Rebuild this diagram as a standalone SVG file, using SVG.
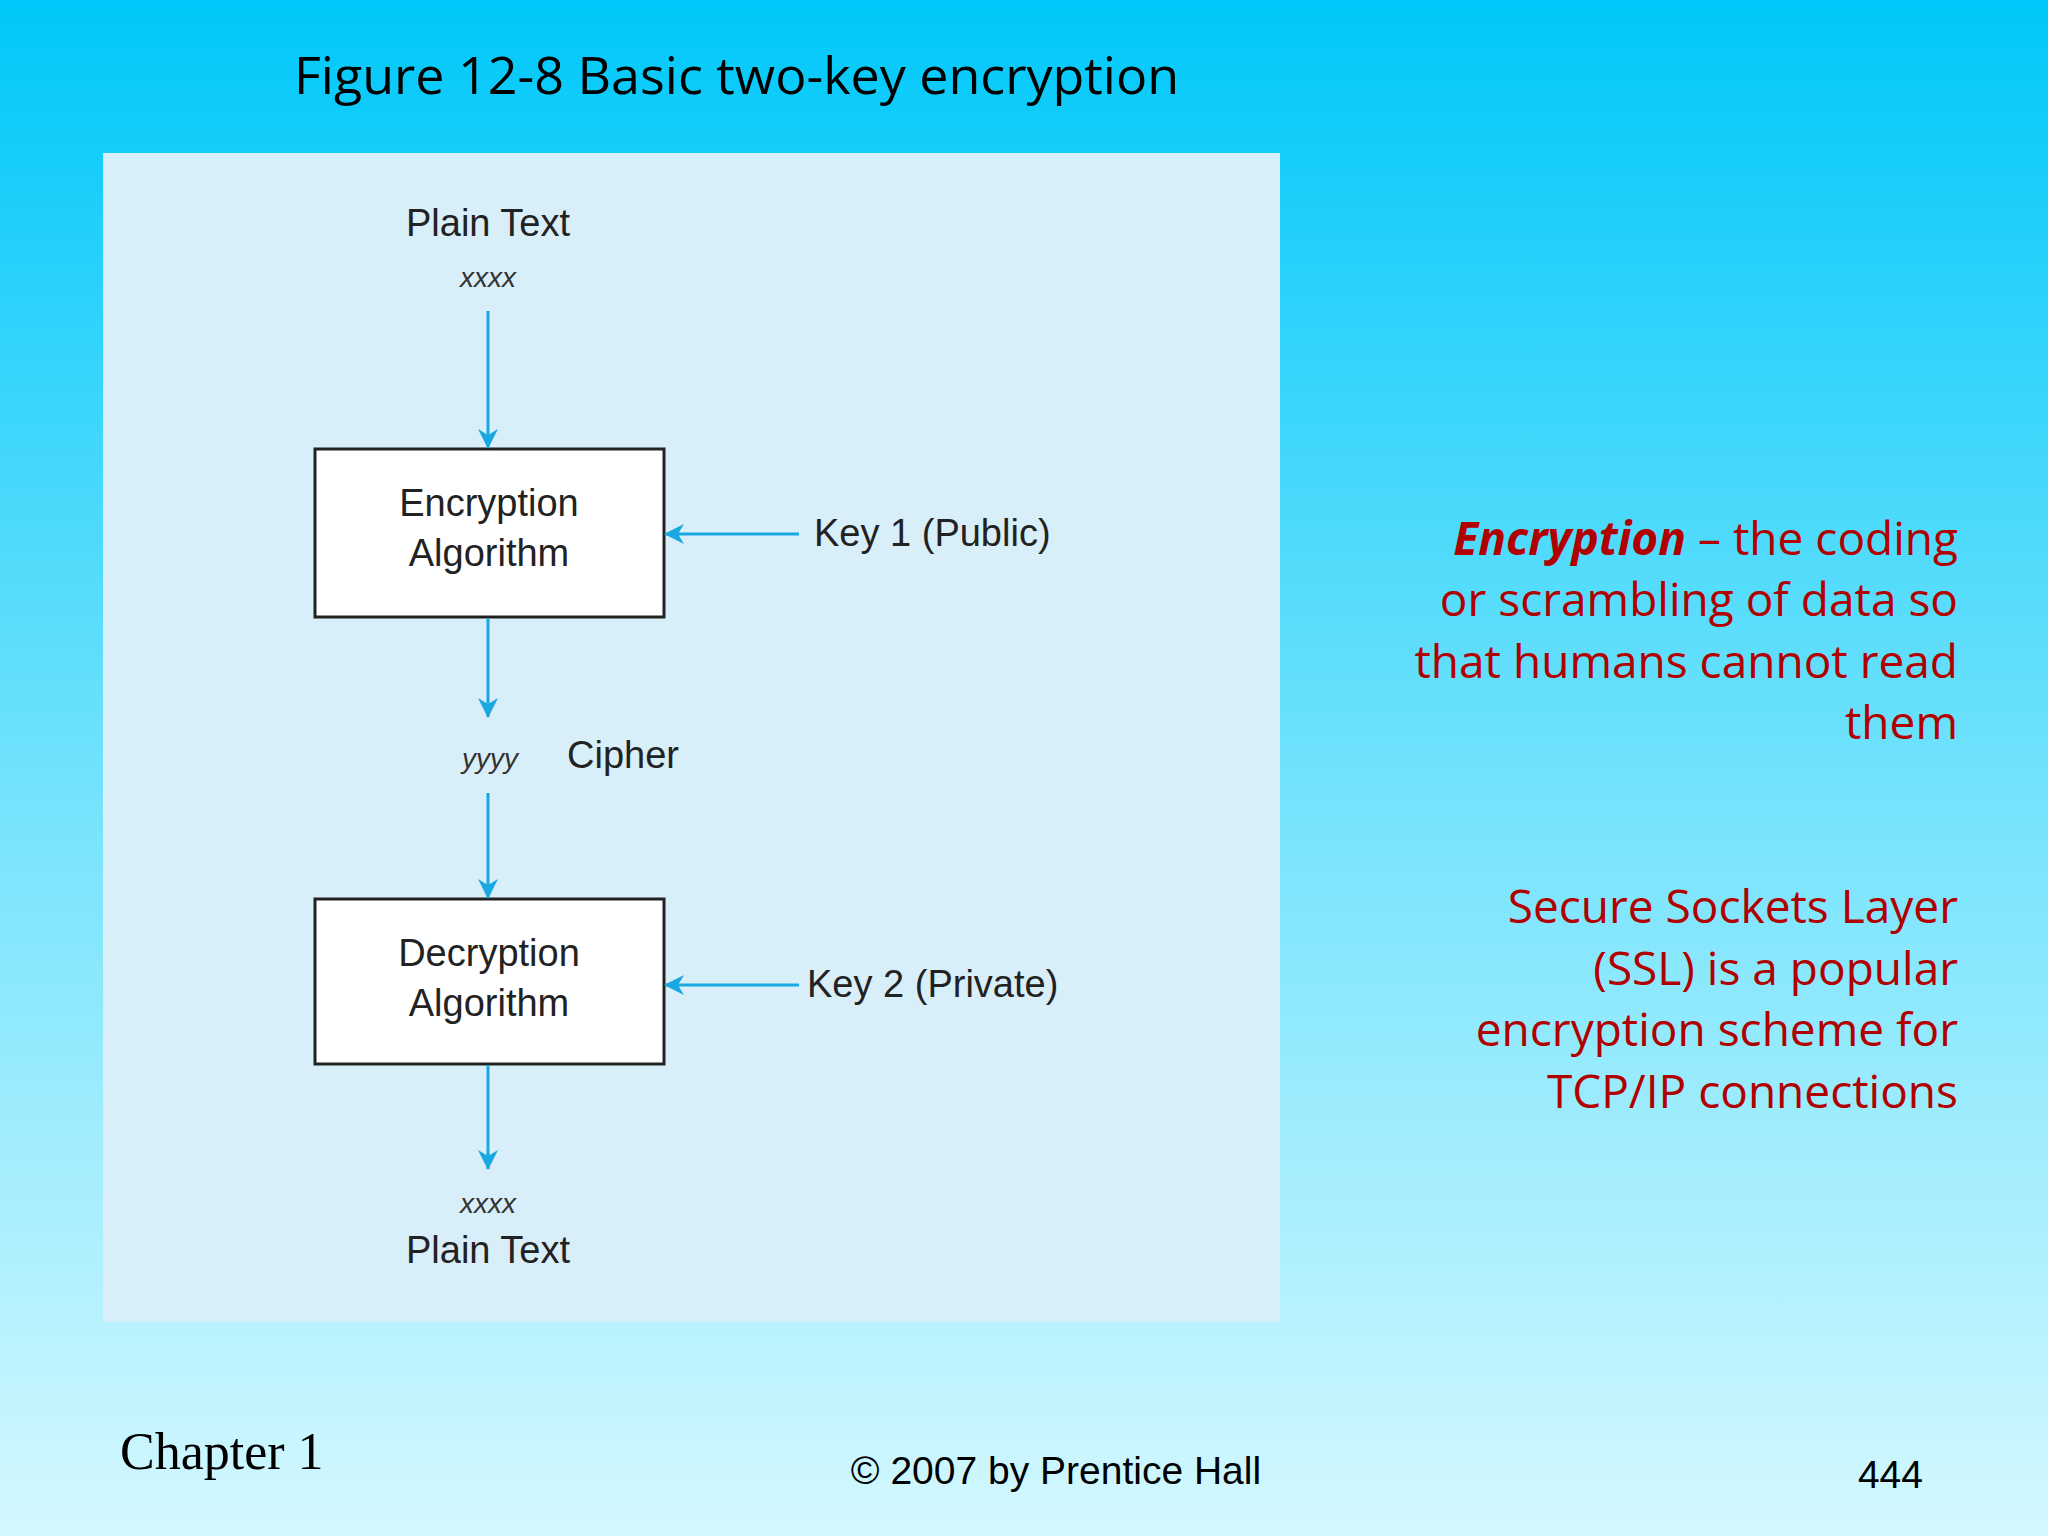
<svg xmlns="http://www.w3.org/2000/svg" width="2048" height="1536" viewBox="0 0 2048 1536">
<defs>
<linearGradient id="bg" x1="0" y1="0" x2="0" y2="1">
<stop offset="0" stop-color="#00c8fa"/><stop offset="0.5" stop-color="#70e2fc"/><stop offset="1" stop-color="#d4f8ff"/>
</linearGradient>
<marker id="ah" viewBox="0 0 20 20" refX="19" refY="10" markerWidth="20" markerHeight="20" markerUnits="userSpaceOnUse" orient="auto">
<path d="M0,0 L20,10 L0,20 L6,10 Z" fill="#1aa8e0"/>
</marker>
<style>
.lbl{font-family:"Liberation Sans",Arial,sans-serif;font-size:38px;fill:#222;text-anchor:middle}
.it{font-family:"Liberation Sans",Arial,sans-serif;font-size:28px;font-style:italic;fill:#333;text-anchor:middle}
.box{fill:#fff;stroke:#222;stroke-width:3}
.ln{stroke:#1aa8e0;stroke-width:3;fill:none;marker-end:url(#ah)}
.red{font-family:"Open Sans","DejaVu Sans",sans-serif;font-size:46px;fill:#b00000;text-anchor:end}
</style>
</defs>
<rect width="2048" height="1536" fill="url(#bg)"/>
<text x="294" y="94" font-family="Open Sans, DejaVu Sans, sans-serif" font-size="52" fill="#000">Figure 12-8 Basic two-key encryption</text>
<rect x="103" y="153" width="1177" height="1169" fill="#d8eef9"/>
<g id="plain-top"><text class="lbl" x="488" y="236">Plain Text</text><text class="it" x="488" y="287">xxxx</text></g>
<g id="enc"><rect class="box" x="315" y="449" width="349" height="168"/><text class="lbl" x="489" y="516">Encryption</text><text class="lbl" x="489" y="566">Algorithm</text></g>
<g id="key1"><text class="lbl" x="814" y="546" text-anchor="start" style="text-anchor:start">Key 1 (Public)</text></g>
<g id="cipher"><text class="it" x="490" y="768">yyyy</text><text class="lbl" x="567" y="768" style="text-anchor:start">Cipher</text></g>
<g id="dec"><rect class="box" x="315" y="899" width="349" height="165"/><text class="lbl" x="489" y="966">Decryption</text><text class="lbl" x="489" y="1016">Algorithm</text></g>
<g id="key2"><text class="lbl" x="807" y="997" style="text-anchor:start">Key 2 (Private)</text></g>
<g id="plain-bot"><text class="it" x="488" y="1213">xxxx</text><text class="lbl" x="488" y="1263">Plain Text</text></g>
<g id="connectors">
<line class="ln" x1="488" y1="311" x2="488" y2="448"/>
<line class="ln" x1="799" y1="534" x2="665" y2="534"/>
<line class="ln" x1="488" y1="618" x2="488" y2="717"/>
<line class="ln" x1="488" y1="793" x2="488" y2="898"/>
<line class="ln" x1="799" y1="985" x2="665" y2="985"/>
<line class="ln" x1="488" y1="1065" x2="488" y2="1169"/>
</g>
<text class="red" x="1958" y="555"><tspan font-weight="bold" font-style="italic">Encryption</tspan> – the coding</text>
<text class="red" x="1958" y="616">or scrambling of data so</text>
<text class="red" x="1958" y="678">that humans cannot read</text>
<text class="red" x="1958" y="739">them</text>
<text class="red" x="1958" y="923">Secure Sockets Layer</text>
<text class="red" x="1958" y="985">(SSL) is a popular</text>
<text class="red" x="1958" y="1046">encryption scheme for</text>
<text class="red" x="1958" y="1108">TCP/IP connections</text>
<text x="120" y="1469" font-family="Liberation Serif, serif" font-size="52" fill="#000">Chapter 1</text>
<text x="1056" y="1484" font-family="Liberation Sans, Arial, sans-serif" font-size="39" fill="#000" text-anchor="middle">© 2007 by Prentice Hall</text>
<text x="1923" y="1488" font-family="Liberation Sans, Arial, sans-serif" font-size="39" fill="#000" text-anchor="end">444</text>
</svg>
